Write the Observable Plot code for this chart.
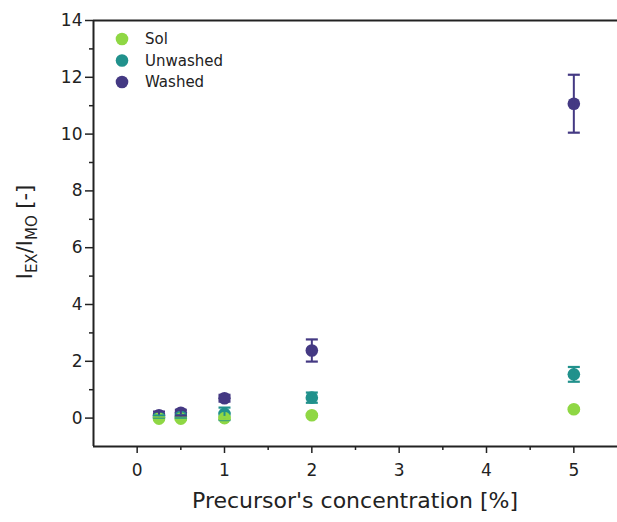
<!DOCTYPE html>
<html><head><meta charset="utf-8">
<script src="https://cdn.jsdelivr.net/npm/d3@7"></script>
<script src="https://cdn.jsdelivr.net/npm/@observablehq/plot@0.6"></script>
<style>body{margin:0;background:#fff}#c{position:relative;width:617px;height:522px}</style>
</head><body><div id="c"></div>
<script>
const concentrations = [0.25, 0.5, 1, 2, 5];
const seriesNames = ["Sol", "Unwashed", "Washed"];
const seriesColors = ["#8fd744", "#21918c", "#443983"];
const solValues = [-0.02, -0.02, 0.0, 0.1, 0.31];
const solErrors = [0.04, 0.04, 0.04, 0.04, 0.04];
const unwashedValues = [0.03, 0.05, 0.15, 0.72, 1.54];
const unwashedErrors = [0.06, 0.06, 0.22, 0.18, 0.26];
const washedValues = [0.1, 0.19, 0.7, 2.38, 11.07];
const washedErrors = [0.13, 0.1, 0.12, 0.39, 1.02];
const xTicks = [0, 1, 2, 3, 4, 5];
const xMinorTicks = [0.5, 1.5, 2.5, 3.5, 4.5];
const yTicks = [0, 2, 4, 6, 8, 10, 12, 14];
const yMinorTicks = [1, 3, 5, 7, 9, 11, 13];

const valueSets = [solValues, unwashedValues, washedValues];
const errorSets = [solErrors, unwashedErrors, washedErrors];
const rows = [];
seriesNames.forEach((s, i) => concentrations.forEach((c, j) => rows.push({
  series: s, x: c, y: valueSets[i][j], lo: valueSets[i][j] - errorSets[i][j], hi: valueSets[i][j] + errorSets[i][j], order: i
})));
// draw order: Washed first, then Unwashed, then Sol on top
const drawRows = rows.slice().sort((a, b) => b.order - a.order);

const capSymbol = {
  draw(ctx, size) {
    const r = Math.sqrt(size / Math.PI);
    ctx.moveTo(-r, 0); ctx.lineTo(r, 0);
  }
};
const color = {domain: seriesNames, range: seriesColors};
const ink = "#222";

const chart = Plot.plot({
  width: 617, height: 522,
  marginLeft: 93, marginRight: 0, marginTop: 20, marginBottom: 76,
  style: {fontFamily: "DejaVu Sans", color: ink, background: "#fff"},
  x: {domain: [-0.5, 5.5]},
  y: {domain: [-1, 14]},
  color,
  marks: [
    Plot.axisY(yTicks, {tickSize: 8, tickPadding: 3, fontSize: 17, strokeWidth: 1.5, label: null}),
    Plot.axisY(yMinorTicks, {tickSize: 4, text: null, strokeWidth: 1.5, label: null}),
    Plot.axisX(xTicks, {tickSize: 7, tickPadding: 10, fontSize: 17, strokeWidth: 1.5, label: null}),
    Plot.axisX(xMinorTicks, {tickSize: 4, text: null, strokeWidth: 1.5, label: null}),
    Plot.ruleX([-0.5], {stroke: ink, strokeWidth: 2}),
    Plot.ruleY([-1], {stroke: ink, strokeWidth: 2}),
    Plot.ruleY([14], {stroke: ink, strokeWidth: 2}),
    Plot.dot(drawRows, {x: "x", y: "y", fill: "series", r: 6.3}),
    Plot.ruleX(drawRows, {x: "x", y1: "lo", y2: "hi", stroke: "series", strokeWidth: 2}),
    Plot.dot(drawRows, {x: "x", y: "hi", stroke: "series", symbol: capSymbol, r: 6, strokeWidth: 2.2}),
    Plot.dot(drawRows, {x: "x", y: "lo", stroke: "series", symbol: capSymbol, r: 6, strokeWidth: 2.2})
  ]
});
document.getElementById("c").appendChild(chart);

const svg = d3.select(chart);
// x axis label
svg.append("text").attr("x", 355).attr("y", 508).attr("text-anchor", "middle")
  .attr("font-size", 22).attr("fill", ink).attr("font-family", "DejaVu Sans")
  .text("Precursor's concentration [%]");
// y axis label with subscripts
const yl = svg.append("text").attr("transform", "translate(32,232) rotate(-90)")
  .attr("text-anchor", "middle").attr("font-size", 21).attr("fill", ink).attr("font-family", "DejaVu Sans");
yl.append("tspan").text("I");
yl.append("tspan").attr("font-size", 15).attr("dy", 5).text("EX");
yl.append("tspan").attr("dy", -5).text("/I");
yl.append("tspan").attr("font-size", 15).attr("dy", 5).text("MO");
yl.append("tspan").attr("dy", -5).text(" [-]");
// legend
const lg = svg.append("g");
seriesNames.forEach((s, i) => {
  lg.append("circle").attr("cx", 122).attr("cy", 39 + i * 21.5).attr("r", 6.3).attr("fill", seriesColors[i]);
  lg.append("text").attr("x", 145).attr("y", 39 + i * 21.5).attr("dy", "0.35em").attr("text-anchor", "start")
    .attr("font-size", 15).attr("fill", ink).attr("font-family", "DejaVu Sans").text(s);
});
</script></body></html>
